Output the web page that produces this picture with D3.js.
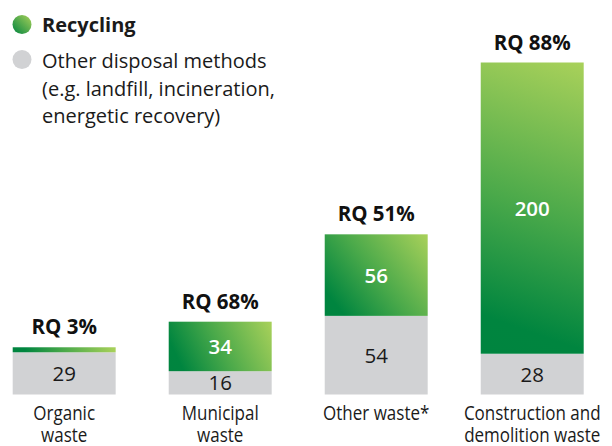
<!DOCTYPE html>
<html>
<head>
<meta charset="utf-8">
<script src="https://cdn.jsdelivr.net/npm/d3@7/dist/d3.min.js"></script>
<style>
  body { margin: 0; background: #fff; }
  svg { display: block; }
  .legend text { font-family: "Open Sans", sans-serif; font-size: 20px; fill: #1a1a1a; }
  .rq { font-family: "Open Sans", sans-serif; font-size: 20.5px; font-weight: 700; fill: #111; }
  .val { font-family: "Open Sans", sans-serif; font-size: 20.5px; }
  .cat { font-family: "Open Sans", sans-serif; font-size: 20px; fill: #1a1a1a; }
</style>
</head>
<body>
<div id="chart"></div>
<script>
var width = 612, height = 446;

// data
var categories = ["Organic waste", "Municipal waste", "Other waste*", "Construction and demolition waste"];
var catLines = [["Organic", "waste"], ["Municipal", "waste"], ["Other waste*"], ["Construction and", "demolition waste"]];
var recycling = [1, 34, 56, 200];
var other = [29, 16, 54, 28];
var rqLabels = ["RQ 3%", "RQ 68%", "RQ 51%", "RQ 88%"];
var legendLabels = ["Recycling", "Other disposal methods", "(e.g. landfill, incineration,", "energetic recovery)"];

var grayColor = "#d1d2d4";
var minGreen = 5; // keep tiny segments visible
var catSquash = 0.85; // narrow look of the category font

var svg = d3.select('#chart')
    .append('svg:svg')
    .attr('width', width)
    .attr('height', height);

var defs = svg.append('defs');

var xScale = d3.scaleBand()
    .domain(categories)
    .range([12.7, 583.7])
    .paddingInner(0.34)
    .paddingOuter(0);

var yScale = d3.scaleLinear()
    .domain([0, 228])
    .range([394.5, 62.5]);

var rows = categories.map(function (c, i) {
    return {cat: c, lines: catLines[i], rec: recycling[i], oth: other[i], rq: rqLabels[i], i: i};
});

// per bar gradient, from bottom-left to top-right corner
rows.forEach(function (d) {
    var x0 = xScale(d.cat), x1 = x0 + xScale.bandwidth();
    var yb = yScale(d.oth);
    var yt = Math.min(yScale(d.oth + d.rec), yb - minGreen);
    d.greenTop = yt;
    var g = defs.append('linearGradient')
        .attr('id', 'grad' + d.i)
        .attr('gradientUnits', 'userSpaceOnUse')
        .attr('x1', x0).attr('y1', yb)
        .attr('x2', x1).attr('y2', yt);
    g.append('stop').attr('offset', '0').attr('stop-color', '#00843f');
    g.append('stop').attr('offset', '0.12').attr('stop-color', '#00853f');
    g.append('stop').attr('offset', '0.5').attr('stop-color', '#4aa94a');
    g.append('stop').attr('offset', '1').attr('stop-color', '#a9d15a');
});

var bars = svg.append('g').selectAll('.bar')
    .data(rows)
    .enter().append('g')
    .attr('class', 'bar');

bars.append('rect')
    .attr('x', function (d) { return xScale(d.cat); })
    .attr('y', function (d) { return yScale(d.oth); })
    .attr('width', xScale.bandwidth())
    .attr('height', function (d) { return yScale(0) - yScale(d.oth); })
    .attr('fill', grayColor);

bars.append('rect')
    .attr('x', function (d) { return xScale(d.cat); })
    .attr('y', function (d) { return d.greenTop; })
    .attr('width', xScale.bandwidth())
    .attr('height', function (d) { return yScale(d.oth) - d.greenTop; })
    .attr('fill', function (d) { return 'url(#grad' + d.i + ')'; });

// values in gray part
bars.append('text')
    .attr('class', 'val')
    .attr('text-anchor', 'middle')
    .attr('fill', '#1a1a1a')
    .attr('x', function (d) { return xScale(d.cat) + xScale.bandwidth() / 2; })
    .attr('y', function (d) { return (yScale(d.oth) + yScale(0)) / 2 + 7.5; })
    .text(function (d) { return d.oth; });

// values in green part (skip tiny ones)
bars.filter(function (d) { return d.rec > 5; }).append('text')
    .attr('class', 'val')
    .attr('text-anchor', 'middle')
    .attr('fill', '#fff')
    .attr('font-weight', 600)
    .attr('x', function (d) { return xScale(d.cat) + xScale.bandwidth() / 2; })
    .attr('y', function (d) { return (yScale(d.oth) + d.greenTop) / 2 + 7.5; })
    .text(function (d) { return d.rec; });

// RQ labels
bars.append('text')
    .attr('class', 'rq')
    .attr('text-anchor', 'middle')
    .attr('x', function (d) { return xScale(d.cat) + xScale.bandwidth() / 2; })
    .attr('y', function (d) { return d.greenTop - 13; })
    .text(function (d) { return d.rq; });

// category labels
bars.append('text')
    .attr('class', 'cat')
    .attr('text-anchor', 'middle')
    .attr('transform', function (d) {
        return 'translate(' + (xScale(d.cat) + xScale.bandwidth() / 2) + ',420) scale(' + catSquash + ',1)';
    })
    .selectAll('tspan')
    .data(function (d) { return d.lines; })
    .enter().append('tspan')
    .attr('x', 0)
    .attr('dy', function (t, j) { return j === 0 ? 0 : 22; })
    .text(function (t) { return t; });

// legend
var lgGrad = defs.append('linearGradient')
    .attr('id', 'lgGrad')
    .attr('x1', 0).attr('y1', 1).attr('x2', 1).attr('y2', 0);
lgGrad.append('stop').attr('offset', '0').attr('stop-color', '#00843f');
lgGrad.append('stop').attr('offset', '1').attr('stop-color', '#a9d15a');

var legend = svg.append('g').attr('class', 'legend');
legend.append('circle').attr('cx', 22).attr('cy', 24.5).attr('r', 9.5).attr('fill', 'url(#lgGrad)');
legend.append('circle').attr('cx', 22).attr('cy', 59.5).attr('r', 9.5).attr('fill', grayColor);
legend.append('text').attr('x', 42).attr('y', 32).attr('font-weight', 700).text(legendLabels[0]);
legend.selectAll('.lgl')
    .data(legendLabels.slice(1))
    .enter().append('text')
    .attr('class', 'lgl')
    .attr('x', 42)
    .attr('y', function (d, i) { return 68 + i * 27.5; })
    .text(function (d) { return d; });
</script>
</body>
</html>
